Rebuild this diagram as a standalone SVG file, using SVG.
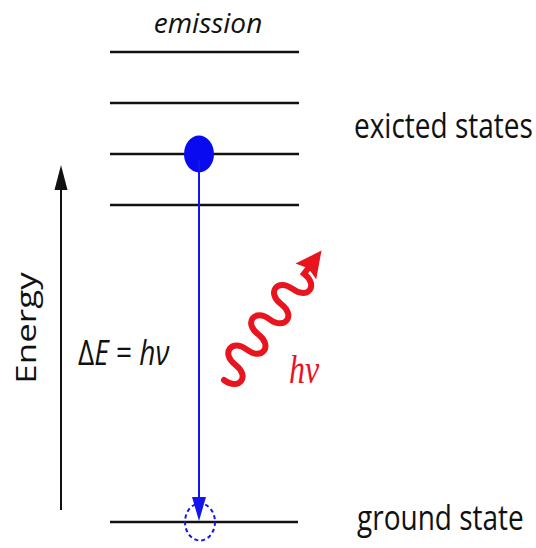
<svg xmlns="http://www.w3.org/2000/svg" width="536" height="548" viewBox="0 0 536 548">
<style>
.lvl{stroke:#111;stroke-width:2.6;fill:none}
.lbl{font-family:"Open Sans","DejaVu Sans",sans-serif;font-size:28px;fill:#111}
.blue{stroke:#1414f0;stroke-width:2;fill:none}
</style>
<rect width="536" height="548" fill="#fff"/>
<g id="levels">
<line class="lvl" x1="110" y1="52" x2="299" y2="52"/>
<line class="lvl" x1="110" y1="103" x2="299" y2="103"/>
<line class="lvl" x1="110" y1="154" x2="299" y2="154"/>
<line class="lvl" x1="110" y1="205" x2="299" y2="205"/>
<line class="lvl" x1="110" y1="522" x2="298" y2="522"/>
</g>
<g id="labels">
<text class="lbl" font-style="italic" font-size="29.5" text-anchor="middle" x="208" y="33">emission</text>
<text class="lbl" transform="translate(354,138) scale(1,1.25)">exicted states</text>
<text class="lbl" transform="translate(357,530) scale(1,1.25)">ground state</text>
<text class="lbl" font-size="30" text-anchor="middle" transform="translate(36,328) rotate(-90) scale(1.25,1)">Energy</text>
<text class="lbl" font-size="27" transform="translate(78,365) scale(1,1.25)">Δ<tspan font-style="italic">E</tspan> = <tspan font-style="italic">hν</tspan></text>
<text font-family="'Liberation Serif',serif" font-style="italic" font-size="32" fill="#e8141e" transform="translate(289,383) scale(1,1.25)">hν</text>
</g>
<g id="electron">
<ellipse cx="199" cy="154" rx="15" ry="18.5" fill="#0a0af0"/>
</g>
<g id="ground-hole">
<ellipse cx="200" cy="522" rx="15" ry="18.5" fill="none" stroke="#1414f0" stroke-width="2" stroke-dasharray="4 3"/>
</g>
<g id="connectors">
<line x1="61" y1="510" x2="61" y2="185" stroke="#111" stroke-width="2"/>
<polygon points="61,165 54.5,190 67.5,190" fill="#111"/>
<line class="blue" x1="199" y1="160" x2="199" y2="500"/>
<polygon points="199,521 192,497 206,497" fill="#1414f0"/>
<g id="photon" transform="translate(224,380) rotate(-53)">
<path d="M0,0 C0,19 19,19 19,0 S38,-19 38,0 S57,19 57,0 S76,-19 76,0 S95,19 95,0 S114,-19 114,0 S133,19 133,0 L138,0" fill="none" stroke="#e8141e" stroke-width="6" stroke-linecap="round"/>
<polygon points="162,0 136,-13 140,0 136,13" fill="#e8141e"/>
</g>
</g>
</svg>
